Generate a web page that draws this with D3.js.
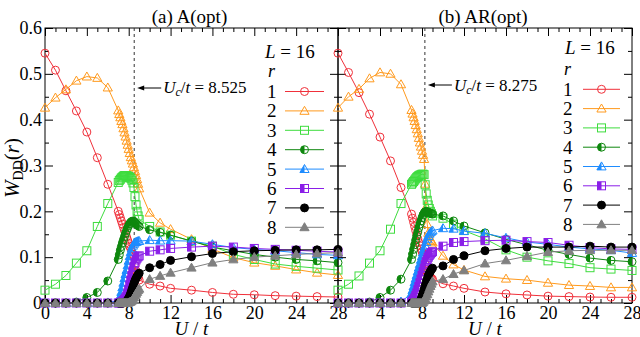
<!doctype html>
<html>
<head>
<meta charset="utf-8">
<script src="https://cdn.jsdelivr.net/npm/d3@7"></script>
<style>
  body { margin: 0; background: #fff; }
  svg, svg text { font-family: "Liberation Serif", Tinos, "Times New Roman", Times, "DejaVu Serif", serif; }
</style>
</head>
<body>
<div id="chart"></div>
<script>
// U/t grid (shared by every series)
const U = [0, 1, 2, 3, 4, 5, 6,
  7.0, 7.1, 7.2, 7.3, 7.4, 7.5, 7.6, 7.7, 7.8, 7.9, 8.0, 8.1, 8.2, 8.3, 8.4, 8.5, 8.6, 8.7, 8.8, 8.9, 9.0,
  10, 11, 12, 14, 16, 18, 20, 22, 24, 26, 28];

// (a) A(opt), r = 1..8
const a1 = [0.545,0.508,0.463,0.419,0.373,0.317,0.259,
  0.200,0.193,0.186,0.179,0.172,0.165,0.158,0.151,0.144,0.137,0.130,0.124,0.118,0.112,0.106,0.100,0.082,0.070,0.062,0.056,0.050,
  0.041,0.037,0.032,0.028,0.023,0.019,0.018,0.016,0.015,0.014,0.013];
const a2 = [0.426,0.448,0.466,0.485,0.494,0.491,0.470,
  0.420,0.412,0.405,0.397,0.390,0.381,0.372,0.363,0.354,0.345,0.336,0.327,0.318,0.311,0.304,0.296,0.288,0.279,0.270,0.260,0.250,
  0.197,0.175,0.161,0.139,0.118,0.099,0.088,0.081,0.073,0.066,0.061];
const a3 = [0.028,0.041,0.060,0.087,0.114,0.167,0.217,
  0.263,0.267,0.270,0.273,0.275,0.277,0.278,0.278,0.278,0.277,0.276,0.274,0.272,0.268,0.262,0.252,0.232,0.214,0.200,0.190,0.182,
  0.167,0.155,0.148,0.135,0.124,0.106,0.095,0.085,0.080,0.076,0.072];
const a4 = [0,0,0,0.002,0.012,0.023,0.048,
  0.095,0.105,0.115,0.123,0.131,0.138,0.145,0.152,0.158,0.164,0.169,0.173,0.176,0.178,0.179,0.178,0.176,0.173,0.171,0.169,0.167,
  0.160,0.154,0.148,0.135,0.122,0.114,0.106,0.100,0.095,0.092,0.088];
const a5 = [0,0,0,0,0,0,0.001,
  0.005,0.009,0.015,0.024,0.034,0.044,0.054,0.063,0.072,0.082,0.092,0.102,0.111,0.119,0.125,0.129,0.132,0.133,0.134,0.135,0.135,
  0.137,0.136,0.136,0.135,0.128,0.121,0.117,0.114,0.110,0.106,0.104];
const a6 = [0,0,0,0,0,0,0,
  0,0,0.001,0.002,0.003,0.005,0.008,0.011,0.015,0.022,0.030,0.040,0.050,0.060,0.070,0.080,0.088,0.094,0.098,0.101,0.103,
  0.113,0.116,0.119,0.122,0.124,0.122,0.119,0.117,0.115,0.113,0.111];
const a7 = [0,0,0,0,0,0,0,
  0,0,0,0,0,0,0.001,0.002,0.004,0.007,0.011,0.016,0.022,0.029,0.036,0.043,0.049,0.054,0.058,0.062,0.065,
  0.077,0.084,0.093,0.101,0.108,0.112,0.114,0.115,0.116,0.116,0.117];
const a8 = [0,0,0,0,0,0,0,
  0,0,0,0,0,0,0,0,0,0,0.001,0.002,0.003,0.005,0.008,0.012,0.016,0.020,0.024,0.028,0.031,
  0.052,0.059,0.066,0.077,0.088,0.095,0.100,0.103,0.106,0.108,0.110];

// (b) AR(opt), r = 1..8
const b1 = [0.545,0.503,0.459,0.412,0.362,0.310,0.252,
  0.194,0.185,0.176,0.167,0.158,0.149,0.140,0.132,0.125,0.118,0.112,0.106,0.100,0.085,0.072,0.066,0.062,0.059,0.056,0.054,0.052,
  0.042,0.037,0.032,0.024,0.020,0.0175,0.015,0.014,0.013,0.0125,0.0125];
const b2 = [0.426,0.450,0.467,0.490,0.503,0.500,0.477,
  0.421,0.413,0.405,0.397,0.388,0.379,0.370,0.360,0.350,0.341,0.332,0.323,0.314,0.260,0.210,0.172,0.153,0.144,0.138,0.135,0.132,
  0.103,0.084,0.072,0.058,0.053,0.050,0.044,0.039,0.037,0.034,0.034];
const b3 = [0.028,0.041,0.059,0.087,0.114,0.161,0.217,
  0.259,0.262,0.265,0.268,0.271,0.274,0.276,0.278,0.279,0.280,0.281,0.281,0.280,0.258,0.238,0.224,0.214,0.206,0.200,0.195,0.190,
  0.185,0.172,0.158,0.140,0.116,0.100,0.092,0.086,0.077,0.074,0.071];
const b4 = [0,0,0,0.002,0.012,0.028,0.052,
  0.095,0.106,0.117,0.127,0.137,0.146,0.155,0.164,0.172,0.179,0.186,0.192,0.196,0.199,0.200,0.199,0.198,0.197,0.196,0.195,0.194,
  0.190,0.179,0.168,0.153,0.139,0.127,0.115,0.106,0.098,0.093,0.090];
const b5 = [0,0,0,0,0,0,0.003,
  0.020,0.028,0.036,0.045,0.053,0.061,0.069,0.077,0.085,0.094,0.102,0.110,0.118,0.125,0.133,0.140,0.146,0.151,0.154,0.156,0.158,
  0.163,0.162,0.157,0.152,0.142,0.133,0.128,0.122,0.118,0.115,0.109];
const b6 = [0,0,0,0,0,0,0,
  0.002,0.004,0.007,0.011,0.016,0.022,0.029,0.036,0.044,0.052,0.060,0.068,0.076,0.083,0.090,0.095,0.100,0.104,0.107,0.110,0.112,
  0.124,0.132,0.134,0.136,0.137,0.134,0.132,0.126,0.121,0.118,0.117];
const b7 = [0,0,0,0,0,0,0,
  0,0,0,0,0,0,0,0,0.003,0.008,0.015,0.022,0.030,0.038,0.046,0.053,0.060,0.065,0.069,0.073,0.076,
  0.081,0.095,0.103,0.114,0.119,0.122,0.122,0.122,0.124,0.122,0.122];
const b8 = [0,0,0,0,0,0,0,
  0,0,0,0,0,0,0,0,0,0,0,0.002,0.005,0.009,0.014,0.019,0.025,0.031,0.037,0.042,0.047,
  0.052,0.063,0.071,0.086,0.093,0.102,0.111,0.114,0.115,0.115,0.115];

const rLabels = ["1", "2", "3", "4", "5", "6", "7", "8"];
const xMajor = [0, 4, 8, 12, 16, 20, 24, 28];
const yMajor = [0, 0.1, 0.2, 0.3, 0.4, 0.5, 0.6];

const colors = ["#f0303a", "#ff9a1e", "#3edc3e", "#0e870e", "#1e8cff", "#8a1ee8", "#000000", "#808080"];
const shapes = ["circle", "triangle", "square", "circle", "triangle", "square", "circle", "triangle"];
const fills = ["open", "open", "open", "half", "half", "half", "full", "full"];

const W = 640, H = 337, yTop = 28, yBot = 303;
const serif = '"Liberation Serif", Tinos, "Times New Roman", Times, "DejaVu Serif", serif';

const panels = [
  { title: "(a) A(opt)", uc: 8.525, ucText: "8.525", series: [a1,a2,a3,a4,a5,a6,a7,a8],
    x0: 45, x1: 338, showY: true, showZero: true,
    arrowY: 88, ucBase: 93, legX: 265, legL: 58, legR: 77, legRow0: 91.5, legStep: 19.4, numX: 267, lineX0: 285, lineX1: 324 },
  { title: "(b) AR(opt)", uc: 8.275, ucText: "8.275", series: [b1,b2,b3,b4,b5,b6,b7,b8],
    x0: 338, x1: 632, showY: false, showZero: false,
    arrowY: 85, ucBase: 91, legX: 565, legL: 54, legR: 75, legRow0: 89.3, legStep: 19.3, numX: 563, lineX0: 583, lineX1: 620 }
];

const svg = d3.select("#chart").append("svg")
  .attr("width", W).attr("height", H)
  .attr("font-family", serif);

const y = d3.scaleLinear().domain([0, 0.6]).range([yBot, yTop]);

function marker(g, shape, fill, cx, cy, color) {
  const body = fill === "full" ? color : "none";
  if (shape === "circle") {
    const r = 4;
    g.append("circle").attr("cx", cx).attr("cy", cy).attr("r", r)
      .attr("fill", body).attr("stroke", color).attr("stroke-width", 1);
    if (fill === "half")
      g.append("path").attr("d", `M${cx},${cy - r}A${r},${r} 0 0 0 ${cx},${cy + r}Z`).attr("fill", color);
  } else if (shape === "square") {
    const s = 4;
    g.append("rect").attr("x", cx - s).attr("y", cy - s).attr("width", 2 * s).attr("height", 2 * s)
      .attr("fill", body).attr("stroke", color).attr("stroke-width", 1);
    if (fill === "half")
      g.append("rect").attr("x", cx - s).attr("y", cy - s).attr("width", s).attr("height", 2 * s).attr("fill", color);
  } else {
    const hw = 4.6, t = cy - 4.6, b = cy + 3.4;
    g.append("path").attr("d", `M${cx},${t}L${cx - hw},${b}L${cx + hw},${b}Z`)
      .attr("fill", body).attr("stroke", color).attr("stroke-width", 1);
    if (fill === "half")
      g.append("path").attr("d", `M${cx},${t}L${cx - hw},${b}L${cx},${b}Z`).attr("fill", color);
  }
}

panels.forEach(p => {
  const x = d3.scaleLinear().domain([0, 28]).range([p.x0, p.x1]);
  const g = svg.append("g");

  // frame
  g.append("rect").attr("x", p.x0).attr("y", yTop).attr("width", p.x1 - p.x0).attr("height", yBot - yTop)
    .attr("fill", "none").attr("stroke", "#000").attr("stroke-width", 1);

  const xMinor = d3.range(0, 29).filter(v => v % 4 !== 0);
  const yMinor = [0.05, 0.15, 0.25, 0.35, 0.45, 0.55];

  const ax = (axis, tr) => {
    const a = g.append("g").attr("transform", tr).call(axis)
      .attr("font-family", serif).attr("font-size", 18);
    a.select(".domain").remove();
    a.selectAll("text").attr("fill", "#000");
    return a;
  };

  ax(d3.axisBottom(x).tickValues(xMajor).tickSize(-8).tickSizeOuter(0).tickPadding(3)
      .tickFormat(d => (d === 0 && !p.showZero) ? "" : d), `translate(0,${yBot})`);
  ax(d3.axisBottom(x).tickValues(xMinor).tickSize(-4).tickFormat(""), `translate(0,${yBot})`);
  ax(d3.axisTop(x).tickValues(xMajor).tickSize(-8).tickFormat(""), `translate(0,${yTop})`);
  ax(d3.axisTop(x).tickValues(xMinor).tickSize(-4).tickFormat(""), `translate(0,${yTop})`);
  ax(d3.axisLeft(y).tickValues(yMajor).tickSize(-8).tickPadding(3)
      .tickFormat(d => p.showY ? (d === 0 ? "0" : d.toFixed(1)) : ""), `translate(${p.x0},0)`);
  ax(d3.axisLeft(y).tickValues(yMinor).tickSize(-4).tickFormat(""), `translate(${p.x0},0)`);
  ax(d3.axisRight(y).tickValues(yMajor).tickSize(-8).tickFormat(""), `translate(${p.x1},0)`);
  ax(d3.axisRight(y).tickValues(yMinor).tickSize(-4).tickFormat(""), `translate(${p.x1},0)`);

  // title
  g.append("text").attr("x", (p.x0 + p.x1) / 2 - 2).attr("y", 23).attr("text-anchor", "middle")
    .attr("font-size", 19).text(p.title);

  // x label
  const xl = g.append("text").attr("x", (p.x0 + p.x1) / 2).attr("y", 335).attr("text-anchor", "middle")
    .attr("font-size", 19);
  xl.append("tspan").attr("font-style", "italic").text("U");
  xl.append("tspan").text(" / ");
  xl.append("tspan").attr("font-style", "italic").text("t");

  // critical U line
  const xc = x(p.uc);
  g.append("line").attr("x1", xc).attr("x2", xc).attr("y1", yTop).attr("y2", yBot)
    .attr("stroke", "#333").attr("stroke-width", 1).attr("stroke-dasharray", "3,3");
  g.append("line").attr("x1", xc + 9).attr("x2", xc + 27).attr("y1", p.arrowY).attr("y2", p.arrowY)
    .attr("stroke", "#000").attr("stroke-width", 1);
  g.append("path").attr("d", `M${xc + 3},${p.arrowY}L${xc + 10},${p.arrowY - 2.5}L${xc + 10},${p.arrowY + 2.5}Z`)
    .attr("fill", "#000");
  const ut = g.append("text").attr("x", xc + 29).attr("y", p.ucBase).attr("font-size", 17);
  ut.append("tspan").attr("font-style", "italic").text("U");
  ut.append("tspan").attr("font-style", "italic").attr("font-size", 12).attr("dy", 3).text("c");
  ut.append("tspan").attr("dy", -3).text("/");
  ut.append("tspan").attr("font-style", "italic").text("t");
  ut.append("tspan").text(" = " + p.ucText);

  // data
  const line = d3.line().x(d => x(d[0])).y(d => y(d[1]));
  p.series.forEach((s, i) => {
    const pts = U.map((u, k) => [u, s[k]]);
    const sg = g.append("g");
    sg.append("path").attr("d", line(pts)).attr("fill", "none")
      .attr("stroke", colors[i]).attr("stroke-width", 1);
    pts.forEach(d => marker(sg, shapes[i], fills[i], x(d[0]), y(d[1]), colors[i]));
  });

  // legend
  const lt = g.append("text").attr("x", p.legX).attr("y", p.legL).attr("font-size", 19);
  lt.append("tspan").attr("font-style", "italic").text("L");
  lt.append("tspan").text(" = 16");
  g.append("text").attr("x", p.numX + 1).attr("y", p.legR).attr("font-size", 18)
    .attr("font-style", "italic").text("r");
  rLabels.forEach((lab, i) => {
    const ly = p.legRow0 + i * p.legStep;
    g.append("text").attr("x", p.numX).attr("y", ly + 6.5).attr("font-size", 19).text(lab);
    g.append("line").attr("x1", p.lineX0).attr("x2", p.lineX1).attr("y1", ly).attr("y2", ly)
      .attr("stroke", colors[i]).attr("stroke-width", 1);
    marker(g, shapes[i], fills[i], (p.lineX0 + p.lineX1) / 2, ly, colors[i]);
  });
});

// y label
const yl = svg.append("text").attr("transform", "translate(19,168) rotate(-90)")
  .attr("text-anchor", "middle").attr("font-size", 21);
yl.append("tspan").attr("font-style", "italic").text("W");
yl.append("tspan").attr("font-size", 14).attr("dy", 4).text("DD");
yl.append("tspan").attr("dy", -4).text("(");
yl.append("tspan").attr("font-style", "italic").text("r");
yl.append("tspan").text(")");
</script>
</body>
</html>
